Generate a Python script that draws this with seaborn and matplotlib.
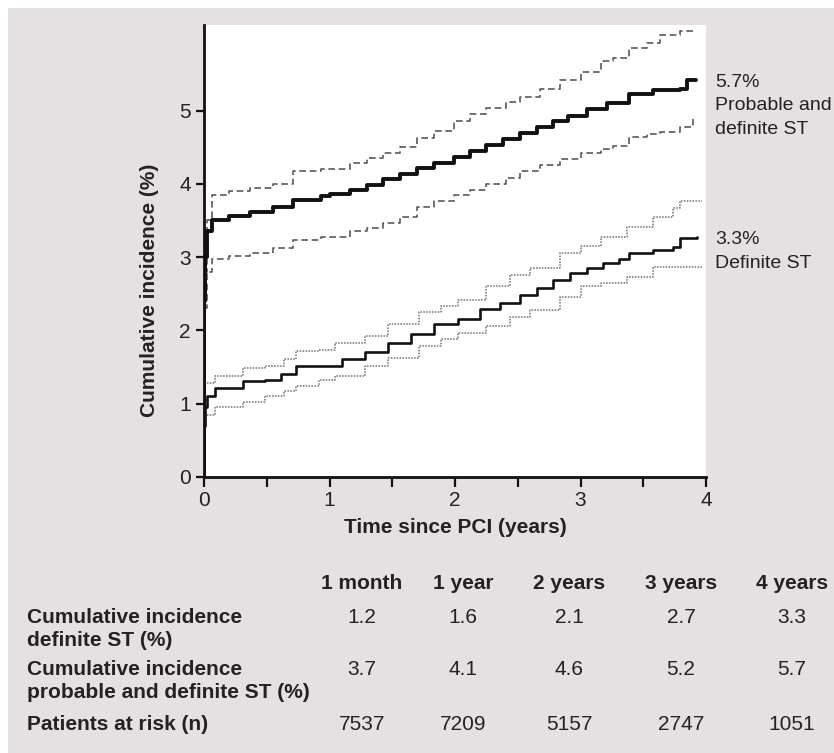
import matplotlib
matplotlib.use("Agg")
import matplotlib.pyplot as plt
from matplotlib.patches import Rectangle
from matplotlib.ticker import MultipleLocator
import seaborn as sns

# ---------------------------------------------------------
# DATA
# ---------------------------------------------------------

# probable and definite ST
t_pd = [0, 0, 0.005, 0.02, 0.06, 0.2, 0.37, 0.55, 0.71, 0.93, 1.0, 1.16, 1.3, 1.43, 1.56,
        1.70, 1.83, 1.99, 2.12, 2.25, 2.38, 2.52, 2.65, 2.78, 2.9, 3.05, 3.21, 3.39, 3.58,
        3.79, 3.85, 3.92]
pd_est = [0, 2.4, 3.0, 3.35, 3.5, 3.56, 3.62, 3.69, 3.78, 3.84, 3.86, 3.91, 3.99, 4.07, 4.13,
          4.22, 4.28, 4.37, 4.45, 4.53, 4.61, 4.69, 4.77, 4.85, 4.93, 5.02, 5.10, 5.23, 5.28,
          5.30, 5.42, 5.42]

t_pd_ci = [0, 0.02, 0.06, 0.2, 0.37, 0.55, 0.71, 0.93, 1.16, 1.3, 1.43, 1.56, 1.70, 1.83,
           1.99, 2.12, 2.25, 2.41, 2.52, 2.68, 2.84, 3.0, 3.16, 3.26, 3.39, 3.53, 3.63, 3.79, 3.9]
pd_upper = [2.8, 3.5, 3.85, 3.9, 3.94, 4.0, 4.17, 4.2, 4.28, 4.35, 4.42, 4.5, 4.62, 4.72,
            4.85, 4.95, 5.04, 5.11, 5.19, 5.30, 5.42, 5.53, 5.67, 5.71, 5.85, 5.92, 6.03, 6.08, 6.10]
pd_lower = [2.3, 2.8, 2.98, 3.02, 3.05, 3.12, 3.23, 3.27, 3.35, 3.4, 3.46, 3.55, 3.68, 3.76,
            3.85, 3.92, 4.0, 4.08, 4.17, 4.25, 4.34, 4.42, 4.48, 4.51, 4.64, 4.68, 4.71, 4.78, 4.88]

# definite ST
t_def = [0, 0, 0.005, 0.02, 0.09, 0.31, 0.49, 0.61, 0.73, 0.92, 1.10, 1.28, 1.47, 1.65, 1.83,
         2.02, 2.20, 2.36, 2.52, 2.65, 2.78, 2.92, 3.05, 3.18, 3.31, 3.39, 3.58, 3.74, 3.79, 3.93]
def_est = [0, 0.7, 0.95, 1.1, 1.22, 1.31, 1.33, 1.40, 1.51, 1.52, 1.61, 1.70, 1.83, 1.95, 2.09,
           2.15, 2.29, 2.38, 2.48, 2.58, 2.69, 2.78, 2.85, 2.92, 2.98, 3.05, 3.10, 3.14, 3.26, 3.27]

t_def_ci = [0, 0.09, 0.31, 0.49, 0.64, 0.73, 0.92, 1.04, 1.28, 1.47, 1.71, 1.89, 2.02, 2.25,
            2.44, 2.60, 2.84, 3.0, 3.16, 3.37, 3.58, 3.74, 3.79, 3.97]
def_upper = [1.28, 1.38, 1.49, 1.51, 1.61, 1.72, 1.73, 1.83, 1.93, 2.09, 2.25, 2.33, 2.41, 2.60,
             2.75, 2.85, 3.05, 3.15, 3.28, 3.41, 3.55, 3.67, 3.76, 3.76]
def_lower = [0.85, 0.96, 1.03, 1.10, 1.17, 1.24, 1.33, 1.38, 1.51, 1.62, 1.79, 1.88, 1.97, 2.06,
             2.18, 2.28, 2.45, 2.60, 2.65, 2.73, 2.87, 2.87, 2.87, 2.87]

# curve end labels
label_pd = ["5.7%", "Probable and", "definite ST"]
label_def = ["3.3%", "Definite ST"]

# table under the chart
col_labels = ["1 month", "1 year", "2 years", "3 years", "4 years"]
row_labels = [
    ["Cumulative incidence", "definite ST (%)"],
    ["Cumulative incidence", "probable and definite ST (%)"],
    ["Patients at risk (n)"],
]
inc_definite = ["1.2", "1.6", "2.1", "2.7", "3.3"]
inc_probable = ["3.7", "4.1", "4.6", "5.2", "5.7"]
at_risk = ["7537", "7209", "5157", "2747", "1051"]

# ---------------------------------------------------------
# STYLE SETTINGS
# ---------------------------------------------------------

sns.set_style("white")
plt.rcParams["font.family"] = ["Liberation Sans", "DejaVu Sans"]

W, H = 834, 753
bg = "#e5e0e1"
ink = "#222222"

fig = plt.figure(figsize=(W / 100, H / 100), dpi=100, facecolor="white")
fig.patches.append(Rectangle((8 / W, 0), 1, 1 - 8 / H, transform=fig.transFigure,
                             facecolor=bg, edgecolor="none", zorder=-10))

ax = fig.add_axes([204 / W, 1 - 477 / H, 502 / W, 452 / H])
ax.set_facecolor("white")

# ---------------------------------------------------------
# CURVES
# ---------------------------------------------------------

common = dict(ax=ax, estimator=None, errorbar=None, drawstyle="steps-post", legend=False)

sns.lineplot(x=t_pd_ci, y=pd_upper, color="#5a5a5a", linewidth=1.2,
             linestyle=(0, (4, 2.2)), **common)
sns.lineplot(x=t_pd_ci, y=pd_lower, color="#5a5a5a", linewidth=1.2,
             linestyle=(0, (4, 2.2)), **common)
sns.lineplot(x=t_pd, y=pd_est, color="#111111", linewidth=2.8, **common)

sns.lineplot(x=t_def_ci, y=def_upper, color="#707070", linewidth=1.1,
             linestyle=(0, (1, 0.9)), **common)
sns.lineplot(x=t_def_ci, y=def_lower, color="#707070", linewidth=1.1,
             linestyle=(0, (1, 0.9)), **common)
sns.lineplot(x=t_def, y=def_est, color="#111111", linewidth=1.9, **common)

# end labels, first line centred on the curve's last value
for lines, yv in [(label_pd, pd_est[-1]), (label_def, def_est[-1])]:
    for i, txt in enumerate(lines):
        ax.annotate(txt, xy=(1, yv), xycoords=("axes fraction", "data"),
                    xytext=(6.5, -5 - i * 17), textcoords="offset points",
                    ha="left", va="baseline", fontsize=14,
                    color=ink, annotation_clip=False)

# ---------------------------------------------------------
# AXES
# ---------------------------------------------------------

ax.set_xlim(0, 4)
ax.set_ylim(0, 452 / 73.3)
ax.set_yticks([0, 1, 2, 3, 4, 5])
ax.set_xticks([0, 1, 2, 3, 4])
ax.xaxis.set_minor_locator(MultipleLocator(0.5))

for side in ["top", "right"]:
    ax.spines[side].set_visible(False)
for side in ["left", "bottom"]:
    ax.spines[side].set_linewidth(2)
    ax.spines[side].set_color("#111111")

ax.tick_params(axis="y", which="major", direction="out", length=5.5, width=1.6,
               color="#111111", labelsize=15, labelcolor=ink, pad=4, left=True)
ax.tick_params(axis="x", which="both", direction="out", length=7, width=1.6,
               color="#111111", labelsize=15, labelcolor=ink, pad=3, bottom=True)

ax.set_ylabel("Cumulative incidence (%)", fontsize=15, fontweight="bold", color=ink)
ax.yaxis.set_label_coords((159 - 204) / 502, 0.413)
ax.set_xlabel("Time since PCI (years)", fontsize=15, fontweight="bold", color=ink)
ax.xaxis.set_label_coords(0.5, -(518 - 477) / 452)

# ---------------------------------------------------------
# TABLE
# ---------------------------------------------------------

col_x = [362, 463, 569, 681, 792]
header_base = 589
row_base = [623, 675, 730]
line_gap = 23

for cx, lab in zip(col_x, col_labels):
    fig.text(cx / W, 1 - header_base / H, lab, ha="center", va="baseline",
             fontsize=15, fontweight="bold", color=ink)

for rb, lines, vals in zip(row_base, row_labels, [inc_definite, inc_probable, at_risk]):
    for i, txt in enumerate(lines):
        fig.text(27 / W, 1 - (rb + i * line_gap) / H, txt, ha="left", va="baseline",
                 fontsize=15, fontweight="bold", color=ink)
    for cx, v in zip(col_x, vals):
        fig.text(cx / W, 1 - rb / H, v, ha="center", va="baseline",
                 fontsize=15, color=ink)

fig.savefig("out.png", dpi=100, facecolor=fig.get_facecolor())
